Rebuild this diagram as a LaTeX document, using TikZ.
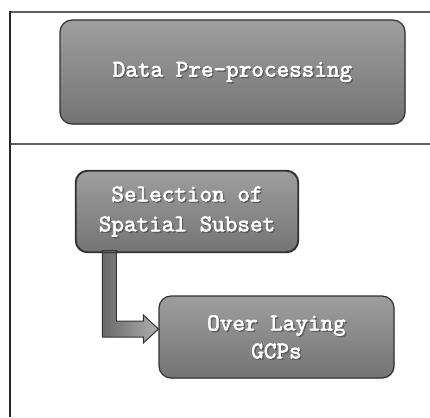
\documentclass[tikz,border=0pt]{standalone}
\usepackage{fontspec}
\newfontfamily\stagefont{lmmono10-regular.otf}[FakeBold=2.5]
\usetikzlibrary{positioning,calc,shadows}
\definecolor{boxtop}{RGB}{158,158,158}
\definecolor{boxbottom}{RGB}{116,116,116}
\definecolor{boxline}{RGB}{50,50,50}
\definecolor{arrowdark}{RGB}{105,105,105}
\definecolor{arrowlight}{RGB}{175,175,175}
\definecolor{rulegray}{RGB}{95,95,95}

\tikzset{
  stage/.style={draw=boxline, line width=1.2, rounded corners=12,
    top color=boxtop, bottom color=boxbottom,
    drop shadow={shadow xshift=1pt, shadow yshift=-1pt, opacity=0.25}},
  stagetext/.style={font=\stagefont\fontsize{24}{30}\selectfont, align=center, inner sep=0},
  blockarrow/.style={draw=boxline, line width=1, left color=arrowdark, right color=arrowlight},
  rule/.style={draw=rulegray, line width=1.5}
}

% white label with a soft grey shadow behind it
\newcommand\stagelabel[2]{%
  \node[stagetext, text=black!70, opacity=0.6] at ($(#1.center)+(1.4,1.4)$) {#2};
  \node[stagetext, text=white] at (#1.center) {#2};}

\begin{document}
\begin{tikzpicture}[x=1pt, y=-1pt]
\useasboundingbox (0,0) rectangle (430,417);
% table rules
\draw[rule] (10,12) -- (430,12);
\draw[rule] (10,144) -- (430,144);
\draw[line width=1.5, black!85] (10,11.25) -- (10,417);

% stages
\node[stage, minimum width=345, minimum height=104] (prep) at (232.5,72) {};
\node[stage, minimum width=222, minimum height=81] (subset) at (187,211.5) {};
\node[stage, minimum width=235, minimum height=82] (gcps) at (276.5,337) {};

% bent arrow from subset down and into gcps
\coordinate (tip) at ($(gcps.west)+(0,-8)$);
\coordinate (s1) at ($(subset.south west)+(27,-2)$);
\coordinate (s2) at ($(subset.south west)+(41,-2)$);
\draw[blockarrow] (s1) -- (s2) -- (s2 |- {$(tip)+(0,-8)$}) -- ($(tip)+(-15,-8)$)
  -- ($(tip)+(-15,-14)$) -- (tip) -- ($(tip)+(-15,14)$) -- ($(tip)+(-15,8)$)
  -- (s1 |- {$(tip)+(0,8)$}) -- cycle;
\draw[boxline, line width=1.2, rounded corners=12] (subset.south west) rectangle (subset.north east);

\stagelabel{prep}{Data Pre-processing}
\stagelabel{subset}{Selection of\\Spatial Subset}
\stagelabel{gcps}{Over Laying\\[-2pt]GCPs}
\end{tikzpicture}
\end{document}
